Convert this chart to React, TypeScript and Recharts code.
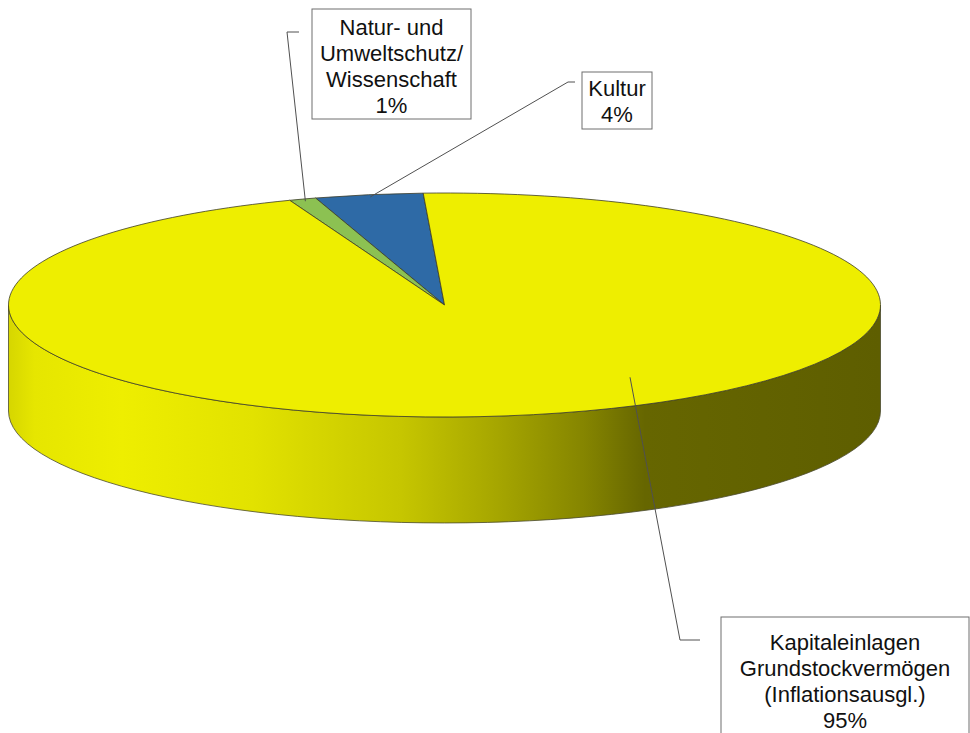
import React from 'react'
import { PieChart, Pie } from 'recharts'

// Anteile (gerundet wie im Original-Diagramm)
const categories = ['Kultur', 'Natur- und Umweltschutz/Wissenschaft', 'Kapitaleinlagen Grundstockvermögen (Inflationsausgl.)']
const shares = [4, 1, 95]
const labelLines = [
  ['Kultur'],
  ['Natur- und', 'Umweltschutz/', 'Wissenschaft'],
  ['Kapitaleinlagen', 'Grundstockvermögen', '(Inflationsausgl.)'],
]
const colors = ['#2e6aa6', '#8cc152', '#eeee00']

const chartData = categories.map((name, i) => ({ name, value: shares[i], fill: colors[i], lines: labelLines[i] }))

// Geometrie der "3D"-Scheibe
const CX = 444.5
const CY = 305
const RX = 436
const K = 112 / 436 // vertikale Stauchung
const DEPTH = 106
const FONT = '"Liberation Sans", Arial, sans-serif'

// Position der Beschriftungskästen
const labelLayout = [
  { box: { x: 582, y: 72, w: 70, h: 57 }, textY: 88, elbow: [575, 82, 568, 82], frac: 0.98 },
  { box: { x: 312, y: 9, w: 159, h: 110 }, textY: 27, elbow: [299, 32, 287, 32], frac: 0.98 },
  { box: { x: 721, y: 617, w: 248, h: 130 }, textY: 642, elbow: [700, 640, 680, 640], frac: 0.773, angle: 303.4 },
]
const LINE_H = 26.3

const RAD = Math.PI / 180
const pt = (cx: number, cy: number, r: number, a: number) => [cx + r * Math.cos(a * RAD), cy - r * K * Math.sin(a * RAD)]

function Slice3D(props: any) {
  const { cx, cy, outerRadius, startAngle, endAngle, fill } = props
  const s = Math.min(startAngle, endAngle)
  const e = Math.max(startAngle, endAngle)
  const ry = outerRadius * K
  const sides: React.ReactNode[] = []
  for (let k = 0; k < 2; k++) {
    const a0 = Math.max(s, 180 + 360 * k)
    const a1 = Math.min(e, 360 + 360 * k)
    if (a1 <= a0) continue
    const p0 = pt(cx, cy, outerRadius, a0)
    const p1 = pt(cx, cy, outerRadius, a1)
    const d = `M${p0[0]},${p0[1]} A${outerRadius},${ry} 0 0 0 ${p1[0]},${p1[1]} L${p1[0]},${p1[1] + DEPTH} A${outerRadius},${ry} 0 0 1 ${p0[0]},${p0[1] + DEPTH} Z`
    sides.push(<path key={k} d={d} fill={fill === '#eeee00' ? 'url(#sideYellow)' : fill} stroke="#4a4a30" strokeWidth={0.8} />)
  }
  const ps = pt(cx, cy, outerRadius, s)
  const pe = pt(cx, cy, outerRadius, e)
  const large = e - s > 180 ? 1 : 0
  const top = `M${cx},${cy} L${ps[0]},${ps[1]} A${outerRadius},${ry} 0 ${large} 0 ${pe[0]},${pe[1]} Z`
  return (
    <g>
      <defs>
        <linearGradient id="sideYellow" gradientUnits="userSpaceOnUse" x1={cx - outerRadius} y1={0} x2={cx + outerRadius} y2={0}>
          <stop offset="0" stopColor="#d6d600" />
          <stop offset="0.03" stopColor="#e6e600" />
          <stop offset="0.13" stopColor="#eeee00" />
          <stop offset="0.28" stopColor="#e2e200" />
          <stop offset="0.45" stopColor="#c6c600" />
          <stop offset="0.56" stopColor="#a6a600" />
          <stop offset="0.66" stopColor="#858500" />
          <stop offset="0.73" stopColor="#666600" />
          <stop offset="1" stopColor="#5e5e00" />
        </linearGradient>
      </defs>
      {sides}
      <path d={top} fill={fill} stroke="#3c3c28" strokeWidth={0.8} strokeLinejoin="round" />
    </g>
  )
}

function renderLabel(props: any) {
  const { cx, cy, outerRadius, midAngle, percent, index } = props
  const lay = labelLayout[index]
  const lines: string[] = labelLines[index]
  const anchor = pt(cx, cy, outerRadius * lay.frac, lay.angle ?? midAngle)
  const [ex0, ey0, ex1, ey1] = lay.elbow
  const tx = lay.box.x + lay.box.w / 2
  const all = [...lines, `${Math.round(percent * 100)}%`]
  return (
    <g key={`lbl-${index}`}>
      <polyline points={`${ex0},${ey0} ${ex1},${ey1} ${anchor[0]},${anchor[1]}`} fill="none" stroke="#505050" strokeWidth={1} />
      <rect x={lay.box.x} y={lay.box.y} width={lay.box.w} height={lay.box.h} fill="#ffffff" stroke="#6e6e6e" strokeWidth={1} />
      {all.map((t, i) => (
        <text key={i} x={tx} y={lay.textY + i * LINE_H} textAnchor="middle" dominantBaseline="central" fontFamily={FONT} fontSize={22} fill="#111">
          {t}
        </text>
      ))}
    </g>
  )
}

export default function App() {
  return (
    <div style={{ position: 'absolute', left: 0, top: 0, width: 970, height: 733, background: '#fff' }}>
      <PieChart width={970} height={733} margin={{ top: 0, right: 0, bottom: 0, left: 0 }}>
        <Pie
          data={chartData}
          dataKey="value"
          nameKey="name"
          cx={CX}
          cy={CY}
          innerRadius={0}
          outerRadius={RX}
          startAngle={92.8}
          endAngle={452.8}
          shape={Slice3D}
          activeShape={Slice3D}
          inactiveShape={Slice3D}
          label={renderLabel}
          labelLine={false}
          isAnimationActive={false}
          stroke="none"
        />
      </PieChart>
    </div>
  )
}
